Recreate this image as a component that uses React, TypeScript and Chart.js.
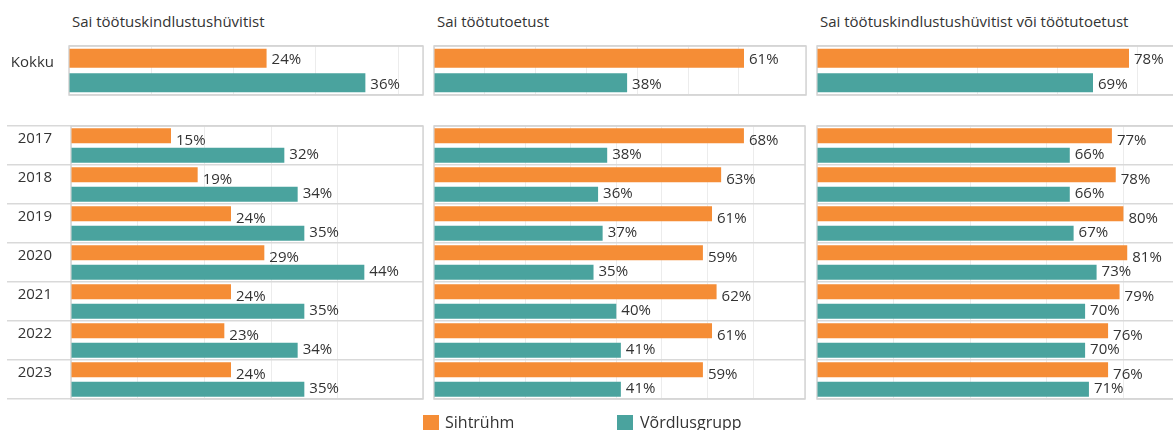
import React, { useEffect, useRef } from "react";
import { Chart, registerables } from "chart.js";

Chart.register(...registerables);

// ---------- data ----------
const totalCategory = ["Kokku"];
const years = ["2017", "2018", "2019", "2020", "2021", "2022", "2023"];
const seriesNames = ["Sihtrühm", "Võrdlusgrupp"];
const panelTitles = [
  "Sai töötuskindlustushüvitist",
  "Sai töötutoetust",
  "Sai töötuskindlustushüvitist või töötutoetust",
];

// Kokku (total) per panel
const totalTarget = [24, 61, 78];
const totalControl = [36, 38, 69];

// yearly values
const benefitTarget = [15, 19, 24, 29, 24, 23, 24];
const benefitControl = [32, 34, 35, 44, 35, 34, 35];
const allowanceTarget = [68, 63, 61, 59, 62, 61, 59];
const allowanceControl = [38, 36, 37, 35, 40, 41, 41];
const eitherTarget = [77, 78, 80, 81, 79, 76, 76];
const eitherControl = [66, 66, 67, 73, 70, 70, 71];

// ---------- styles ----------
const FONT = "'Open Sans', sans-serif";
const TEXT = "#333333";
const ORANGE = "#F58D36";
const TEAL = "#4AA39E";
const BORDER = "#d4d4d4";
const ROWLINE = "#d9d9d9";
const VGRID = "#ececec";

type PanelSpec = {
  key: string;
  left: number;
  top: number;
  width: number;
  height: number;
  pad: { left: number; top: number; right: number; bottom: number };
  axisW: number;
  labels: string[];
  target: number[];
  control: number[];
  max: number;
  step: number;
  showLabels: boolean;
  tickLen: number;
  labelPad: number;
  labelOffset: number;
  dy: [number, number];
};

const panels: PanelSpec[] = [
  {
    key: "t1", left: 0, top: 40, width: 430, height: 60,
    pad: { left: 0, top: 6, right: 7, bottom: 5 }, axisW: 69,
    labels: totalCategory, target: [totalTarget[0]], control: [totalControl[0]],
    max: 43, step: 10, showLabels: true, tickLen: 0, labelPad: 15, labelOffset: -8, dy: [1, 1.5],
  },
  {
    key: "b1", left: 0, top: 120, width: 430, height: 285,
    pad: { left: 7, top: 6, right: 7, bottom: 6 }, axisW: 64,
    labels: years, target: benefitTarget, control: benefitControl,
    max: 52.8, step: 10, showLabels: true, tickLen: 64, labelPad: -45, labelOffset: -7, dy: [5, -1],
  },
  {
    key: "t2", left: 428, top: 40, width: 386, height: 60,
    pad: { left: 6, top: 6, right: 8, bottom: 5 }, axisW: 0,
    labels: totalCategory, target: [totalTarget[1]], control: [totalControl[1]],
    max: 73.2, step: 10, showLabels: false, tickLen: 0, labelPad: 0, labelOffset: 0, dy: [1, 1.5],
  },
  {
    key: "b2", left: 428, top: 120, width: 386, height: 285,
    pad: { left: 6, top: 6, right: 9, bottom: 6 }, axisW: 0,
    labels: years, target: allowanceTarget, control: allowanceControl,
    max: 81.4, step: 10, showLabels: false, tickLen: 0, labelPad: 0, labelOffset: 0, dy: [5, -1],
  },
  {
    key: "t3", left: 810, top: 40, width: 420, height: 60,
    pad: { left: 7, top: 6, right: 13, bottom: 5 }, axisW: 0,
    labels: totalCategory, target: [totalTarget[2]], control: [totalControl[2]],
    max: 100, step: 20, showLabels: false, tickLen: 0, labelPad: 0, labelOffset: 0, dy: [1, 1.5],
  },
  {
    key: "b3", left: 810, top: 120, width: 420, height: 285,
    pad: { left: 7, top: 6, right: 30, bottom: 6 }, axisW: 0,
    labels: years, target: eitherTarget, control: eitherControl,
    max: 100, step: 20, showLabels: false, tickLen: 0, labelPad: 0, labelOffset: 0, dy: [5, -1],
  },
];

const titleLefts = [72, 437, 820];

function Panel({ s }: { s: PanelSpec }) {
  const ref = useRef<HTMLCanvasElement>(null);
  useEffect(() => {
    if (!ref.current) return;
    const valueLabels = {
      id: "valueLabels",
      afterDatasetsDraw(chart: any) {
        const ctx = chart.ctx;
        ctx.save();
        ctx.font = `15px ${FONT}`;
        ctx.fillStyle = TEXT;
        ctx.textAlign = "left";
        ctx.textBaseline = "middle";
        chart.data.datasets.forEach((ds: any, i: number) => {
          const meta = chart.getDatasetMeta(i);
          meta.data.forEach((el: any, j: number) => {
            ctx.fillText(`${ds.data[j]}%`, el.x + 5, el.y + s.dy[i]);
          });
        });
        ctx.restore();
      },
    };
    const frame = {
      id: "panelFrame",
      beforeDatasetsDraw(chart: any) {
        const { left, top, right, bottom } = chart.chartArea;
        const ctx = chart.ctx;
        ctx.save();
        ctx.strokeStyle = BORDER;
        ctx.lineWidth = 1.5;
        ctx.strokeRect(left, top, right - left, bottom - top);
        ctx.restore();
      },
    };
    const chart = new Chart(ref.current, {
      type: "bar",
      data: {
        labels: s.labels,
        datasets: [
          { label: seriesNames[0], data: s.target, backgroundColor: ORANGE },
          { label: seriesNames[1], data: s.control, backgroundColor: TEAL },
        ],
      },
      options: {
        indexAxis: "y",
        responsive: false,
        animation: false,
        devicePixelRatio: 1,
        layout: { padding: s.pad },
        datasets: { bar: { categoryPercentage: 1, barPercentage: 0.77 } },
        plugins: { legend: { display: false }, tooltip: { enabled: false } },
        scales: {
          x: {
            type: "linear",
            min: 0,
            max: s.max,
            display: true,
            ticks: { display: false, stepSize: s.step },
            grid: { color: VGRID, lineWidth: 1, drawTicks: false },
            border: { display: false },
            afterFit: (scale: any) => {
              scale.height = 0;
              scale.paddingLeft = 0;
              scale.paddingRight = 0;
              scale.paddingTop = 0;
              scale.paddingBottom = 0;
            },
          },
          y: {
            type: "category",
            display: true,
            afterFit: (scale: any) => {
              scale.width = s.axisW;
              scale.paddingTop = 0;
              scale.paddingBottom = 0;
              scale.paddingLeft = 0;
              scale.paddingRight = 0;
            },
            ticks: {
              display: s.showLabels,
              color: TEXT,
              font: { family: FONT, size: 15 },
              padding: s.labelPad,
              labelOffset: s.labelOffset,
              autoSkip: false,
            },
            grid: {
              color: ROWLINE,
              lineWidth: 1.5,
              offset: true,
              drawTicks: s.tickLen > 0,
              tickLength: s.tickLen,
            },
            border: { display: false },
          },
        },
      },
      plugins: [frame, valueLabels],
    } as any);
    return () => chart.destroy();
  }, [s]);
  return (
    <canvas
      ref={ref}
      width={s.width}
      height={s.height}
      style={{ position: "absolute", left: s.left, top: s.top, width: s.width, height: s.height }}
    />
  );
}

export default function App() {
  return (
    <div
      style={{
        position: "absolute",
        left: 0,
        top: 0,
        width: 1173,
        height: 430,
        overflow: "hidden",
        background: "#ffffff",
        fontFamily: FONT,
        color: TEXT,
      }}
    >
      {panelTitles.map((t, i) => (
        <div
          key={t}
          style={{
            position: "absolute",
            left: titleLefts[i],
            top: 11,
            fontSize: 15,
            lineHeight: "20px",
            whiteSpace: "nowrap",
          }}
        >
          {t}
        </div>
      ))}
      {panels.map((p) => (
        <Panel key={p.key} s={p} />
      ))}
      {/* legend */}
      <div style={{ position: "absolute", left: 423, top: 415, width: 16, height: 16, background: ORANGE }} />
      <div style={{ position: "absolute", left: 445, top: 412, fontSize: 16, lineHeight: "20px", whiteSpace: "nowrap" }}>
        {seriesNames[0]}
      </div>
      <div style={{ position: "absolute", left: 617, top: 415, width: 16, height: 16, background: TEAL }} />
      <div style={{ position: "absolute", left: 640, top: 412, fontSize: 16, lineHeight: "20px", whiteSpace: "nowrap" }}>
        {seriesNames[1]}
      </div>
    </div>
  );
}
